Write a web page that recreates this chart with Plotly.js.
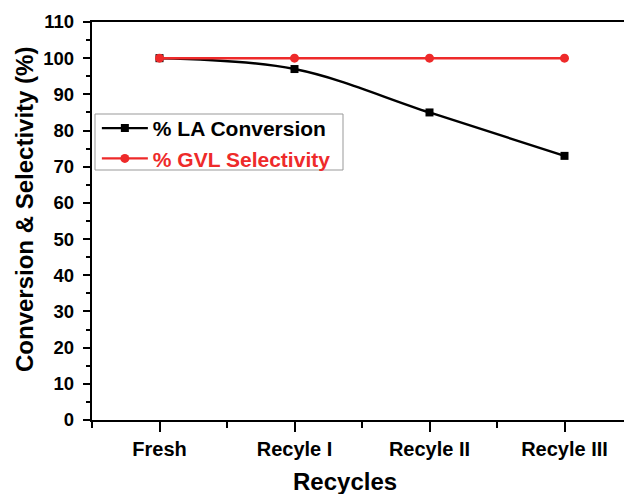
<!DOCTYPE html>
<html>
<head>
<meta charset="utf-8">
<script src="https://cdn.plot.ly/plotly-3.0.1.min.js"></script>
<style>
  html, body { margin: 0; padding: 0; overflow: hidden; background: #fff; }
  #chart { width: 640px; height: 494px; }
</style>
</head>
<body>
<div id="chart"></div>
<script>
// Catalyst recycling runs
const categories = ['Fresh', 'Recyle I', 'Recyle II', 'Recyle III'];
const laConversion = [100, 97, 85, 73];
const gvlSelectivity = [100, 100, 100, 100];

const xPos = categories.map((_, i) => i);
const FONT = 'Arial, "Liberation Sans", sans-serif';
const RED = '#ee2a2a';

const traces = [
  {
    x: xPos, y: laConversion, name: '% LA Conversion',
    type: 'scatter', mode: 'lines+markers',
    line: { color: '#000', width: 2.4, shape: 'spline', smoothing: 1 },
    marker: { symbol: 'square', size: 8, color: '#000' }
  },
  {
    x: xPos, y: gvlSelectivity, name: '<span style="color:' + RED + '">% GVL Selectivity</span>',
    type: 'scatter', mode: 'lines+markers',
    line: { color: RED, width: 2.4 },
    marker: { symbol: 'circle', size: 9, color: RED }
  }
];

const layout = {
  width: 640, height: 494,
  margin: { l: 92, r: 8, t: 22, b: 74 },
  paper_bgcolor: '#fff', plot_bgcolor: '#fff',
  font: { family: FONT, color: '#000', size: 20, weight: 'bold' },
  showlegend: true,
  legend: {
    x: 0.009, y: 0.784, xanchor: 'left', yanchor: 'top',
    bgcolor: 'rgba(0,0,0,0)', borderwidth: 0,
    font: { family: FONT, size: 21, color: '#000', weight: 'bold' },
    tracegroupgap: 0, itemwidth: 46
  },
  // legend frame
  shapes: [{
    type: 'rect', xref: 'paper', yref: 'paper',
    x0: 3 / 540, x1: 251 / 540, y0: 250 / 398, y1: 306 / 398,
    line: { color: '#999', width: 1 }, fillcolor: '#fff', layer: 'below'
  }],
  annotations: [
    {
      text: 'Conversion & Selectivity (%)', textangle: -90, showarrow: false,
      xref: 'paper', yref: 'paper', x: -68 / 540, y: 210 / 398,
      xanchor: 'center', yanchor: 'middle',
      font: { family: FONT, size: 24, color: '#000', weight: 'bold' }
    },
    {
      text: 'Recycles', showarrow: false,
      xref: 'paper', yref: 'paper', x: 253 / 540, y: -61 / 398,
      xanchor: 'center', yanchor: 'middle',
      font: { family: FONT, size: 24, color: '#000', weight: 'bold' }
    }
  ],
  xaxis: {
    range: [-0.5, 3.5],
    tickvals: xPos, ticktext: categories,
    showgrid: false, zeroline: false,
    showline: true, linecolor: '#000', linewidth: 2.2, mirror: true,
    ticks: 'outside', ticklen: 10, tickwidth: 2, tickcolor: '#000',
    minor: { dtick: 0.5, tick0: -0.5, ticks: 'outside', ticklen: 6, tickwidth: 2, tickcolor: '#000', showgrid: false },
    tickfont: { family: FONT, size: 20, color: '#000', weight: 'bold' }
  },
  yaxis: {
    range: [0, 110],
    tick0: 0, dtick: 10,
    showgrid: false, zeroline: false,
    showline: true, linecolor: '#000', linewidth: 2.2, mirror: true,
    ticks: 'outside', ticklen: 7, tickwidth: 2, tickcolor: '#000',
    ticklabelstandoff: 5,
    minor: { dtick: 5, ticks: 'outside', ticklen: 4, tickwidth: 2, tickcolor: '#000', showgrid: false },
    tickfont: { family: FONT, size: 18.5, color: '#000', weight: 'bold' }
  }
};

Plotly.newPlot('chart', traces, layout, { staticPlot: true, displayModeBar: false });
</script>
</body>
</html>
